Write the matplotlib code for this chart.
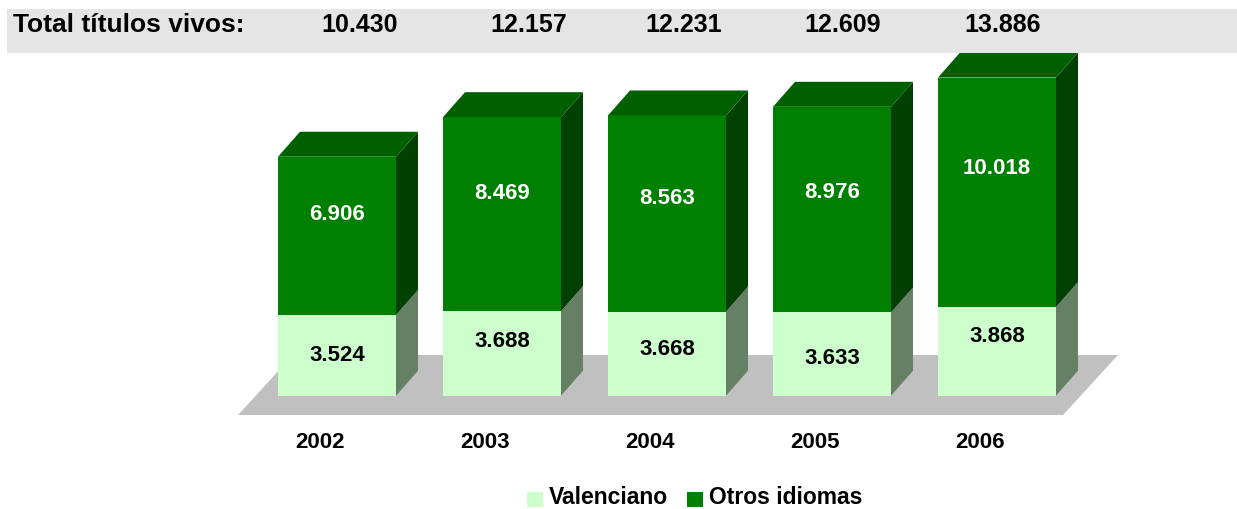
import matplotlib
matplotlib.use("Agg")
import matplotlib.pyplot as plt
from matplotlib.patches import Polygon, Rectangle

plt.rcParams['font.family'] = ['Liberation Sans', 'DejaVu Sans']

years = ["2002", "2003", "2004", "2005", "2006"]
valenciano = [3524, 3688, 3668, 3633, 3868]
otros = [6906, 8469, 8563, 8976, 10018]
series_names = ["Valenciano", "Otros idiomas"]

W, H = 1237, 509
fig = plt.figure(figsize=(W / 100, H / 100), dpi=100)
ax = fig.add_axes([0, 0, 1, 1])
ax.set_axis_off()

# pixel mapping (image coords, y downward)
X0, SX = 337.0, 165.0        # px of category 0, px per category
Y0, K = 395.7, 0.02291       # px of value 0, px per unit
ax.set_xlim(-X0 / SX, (W - X0) / SX)
ax.set_ylim((Y0 - H) / K, Y0 / K)

def px(xp, yp):
    return ((xp - X0) / SX, (Y0 - yp) / K)

half = 59.0 / SX
ddx = 22.0 / SX
ddy = 25.0 / K

def shade(c, f):
    import matplotlib.colors as mc
    r, g, b = mc.to_rgb(c)
    return (r * f, g * f, b * f)

c_val = "#CCFFCC"
c_otr = "#008000"
floor_c = "#C0C0C0"

# floor
floor = Polygon([px(238, 415), px(1063, 415), px(1118, 355), px(293, 355)],
                closed=True, facecolor=floor_c, edgecolor="none", zorder=1)
ax.add_patch(floor)

def box(i, y0, y1, color, top=False):
    xl, xr = i - half, i + half
    ax.add_patch(Polygon([(xl, y0), (xr, y0), (xr, y1), (xl, y1)], closed=True,
                         facecolor=color, edgecolor="none", zorder=2))
    ax.add_patch(Polygon([(xr, y0), (xr + ddx, y0 + ddy), (xr + ddx, y1 + ddy), (xr, y1)],
                         closed=True, facecolor=shade(color, 0.5), edgecolor="none", zorder=2))
    if top:
        ax.add_patch(Polygon([(xl, y1), (xr, y1), (xr + ddx, y1 + ddy), (xl + ddx, y1 + ddy)],
                             closed=True, facecolor=shade(color, 0.75), edgecolor="none", zorder=2))

def fmt(v):
    return f"{v:,}".replace(",", ".")

val_off = [0, 12, 4, -4, 15]
otr_off = [21, 21, 15, 17, 24]

for i in range(len(years)):
    v, o = valenciano[i], otros[i]
    box(i, 0, v, c_val)
    box(i, v, v + o, c_otr, top=True)
    ax.annotate(fmt(v), (i, v / 2), xytext=(0, val_off[i]), textcoords="offset pixels",
                ha="center", va="center", fontsize=16, fontweight="bold", color="black", zorder=3)
    ax.annotate(fmt(o), (i, v + o / 2), xytext=(0, otr_off[i]), textcoords="offset pixels",
                ha="center", va="center", fontsize=16, fontweight="bold", color="white", zorder=3)
    ax.annotate(years[i], (i, (Y0 - 443) / K), xytext=(-17, 0), textcoords="offset pixels",
                ha="center", va="center", fontsize=16, fontweight="bold", color="black", zorder=3)

# banner
fig.patches.append(Rectangle((7 / W, 1 - 53 / H), (W - 7) / W, 44 / H,
                             transform=fig.transFigure, facecolor="#E5E5E5",
                             edgecolor="none", zorder=0))
fig.text(13 / W, 1 - 25.5 / H, "Total títulos vivos:", ha="left", va="center",
         fontsize=19, fontweight="bold")
total_x = [360, 529, 684, 843, 1003]
for xc, v, o in zip(total_x, valenciano, otros):
    fig.text(xc / W, 1 - 25.5 / H, fmt(v + o), ha="center", va="center",
             fontsize=18, fontweight="bold")

# legend
for (sx, tx), name, col in zip([(527, 549), (687, 709)], series_names, [c_val, c_otr]):
    fig.patches.append(Rectangle((sx / W, 1 - 507 / H), 16 / W, 15 / H,
                                 transform=fig.transFigure, facecolor=col,
                                 edgecolor="none"))
    fig.text(tx / W, 1 - 498 / H, name, ha="left", va="center",
             fontsize=16.5, fontweight="bold")

fig.savefig("out.png", dpi=100)
